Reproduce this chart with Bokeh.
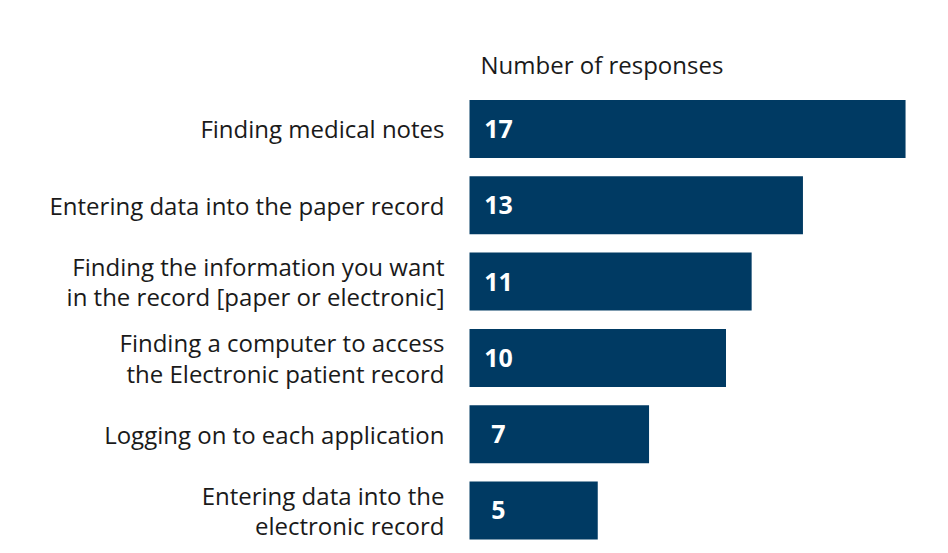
from bokeh.plotting import figure
from bokeh.models import Range1d, ColumnDataSource
from bokeh.core.properties import value
from bokeh.embed import file_html
from bokeh.resources import INLINE

categories = [
    "Finding medical notes",
    "Entering data into the paper record",
    "Finding the information you want\nin the record [paper or electronic]",
    "Finding a computer to access\nthe Electronic patient record",
    "Logging on to each application",
    "Entering data into the\nelectronic record",
]
responses = [17, 13, 11, 10, 7, 5]
title_text = "Number of responses"

pos = list(range(len(categories)))
src = ColumnDataSource(dict(y=pos, v=responses, cat=categories,
                            lab=[str(r) for r in responses],
                            zero=[0] * len(pos)))

W, H = 940, 545
p = figure(width=W, height=H, output_backend="svg", toolbar_location=None,
           x_range=Range1d(-18.285, (W - 469) / 25.65),
           y_range=Range1d((H - 128.5) / 76.3, -1.684),
           min_border=0, min_border_left=0, min_border_right=0,
           min_border_top=0, min_border_bottom=0)
p.axis.visible = False
p.grid.visible = False
p.outline_line_color = None
p.background_fill_color = "white"
p.border_fill_color = "white"

p.hbar(y="y", left=0, right="v", height=0.76, source=src,
       fill_color="#003a63", line_color=None)

p.text(x="zero", y="y", text="lab", source=src, x_offset=29,
       text_align="center", text_baseline="middle",
       text_color="white", text_font=value("Open Sans"), text_font_style="bold",
       text_font_size="25px")

p.text(x="zero", y="y", text="cat", source=src, x_offset=-25,
       text_align="right", text_baseline="middle", text_line_height=0.93,
       text_color="#1a1a1a", text_font=value("Open Sans"), text_font_size="24px")

p.text(x=[0], y=[-0.85], text=[title_text], x_offset=11,
       text_align="left", text_baseline="middle",
       text_color="#1a1a1a", text_font=value("Open Sans"), text_font_size="24px")

open("out.html", "w").write(file_html(p, INLINE))
